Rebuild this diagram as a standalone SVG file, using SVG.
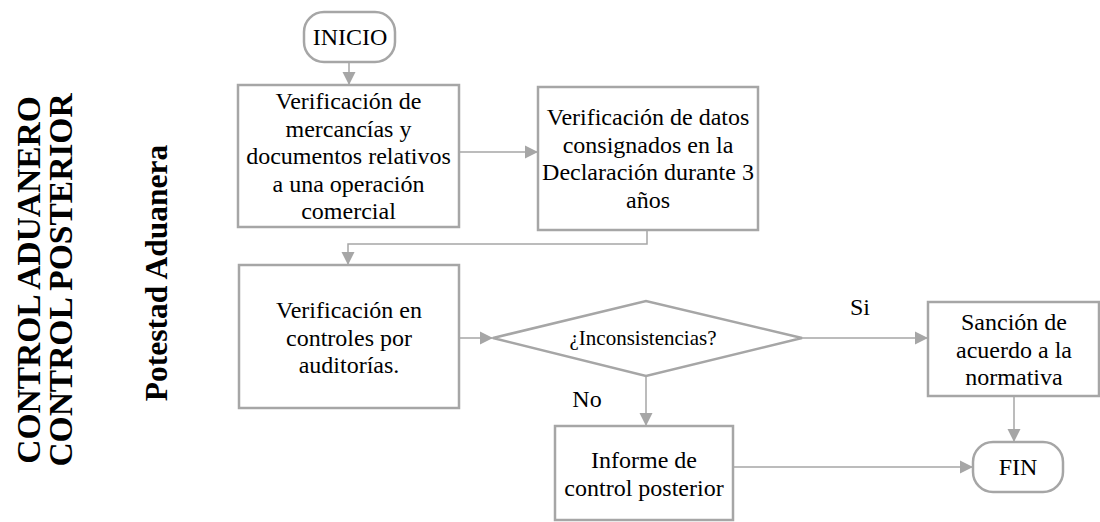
<svg xmlns="http://www.w3.org/2000/svg" width="1100" height="522" viewBox="0 0 1100 522" font-family="Liberation Serif, serif">
<defs>
<style>
.box{fill:#fff;stroke:#a6a6a6;stroke-width:2.5}
.t{font-size:24px;fill:#000;text-anchor:middle}
.d{font-size:21px}
.v{font-weight:bold;fill:#000;text-anchor:middle}
.c{fill:none;stroke:#a6a6a6;stroke-width:1.5}
</style>
<marker id="ah" markerUnits="userSpaceOnUse" markerWidth="14" markerHeight="14" refX="13" refY="7" orient="auto">
<path d="M0,0.5 L13,7 L0,13.5 z" fill="#a6a6a6"/>
</marker>
</defs>
<rect width="1100" height="522" fill="#fff"/>
<g id="labels">
<text class="v" font-size="33.5" transform="translate(40,280) rotate(-90)">CONTROL ADUANERO</text>
<text class="v" font-size="33.5" transform="translate(72,280) rotate(-90)">CONTROL POSTERIOR</text>
<text class="v" font-size="31.5" transform="translate(167,273) rotate(-90)">Potestad Aduanera</text>
</g>
<g id="connectors">
<line class="c" x1="349" y1="62" x2="349" y2="85" marker-end="url(#ah)"/>
<line class="c" x1="459" y1="152" x2="538" y2="152" marker-end="url(#ah)"/>
<polyline class="c" points="647,230 647,244 348,244 348,265" marker-end="url(#ah)"/>
<line class="c" x1="459" y1="338" x2="493" y2="338" marker-end="url(#ah)"/>
<line class="c" x1="802" y1="338" x2="928" y2="338" marker-end="url(#ah)"/>
<line class="c" x1="646" y1="376" x2="646" y2="426" marker-end="url(#ah)"/>
<line class="c" x1="1014" y1="396" x2="1014" y2="442" marker-end="url(#ah)"/>
<line class="c" x1="733" y1="467" x2="973" y2="467" marker-end="url(#ah)"/>
<text class="t" x="860" y="315">Si</text>
<text class="t" x="587" y="407">No</text>
</g>
<g id="inicio">
<rect class="box" x="304" y="12" width="91" height="50" rx="20"/>
<text class="t" x="350" y="45">INICIO</text>
</g>
<g id="verif1">
<rect class="box" x="238" y="85" width="221" height="142"/>
<text class="t" x="348.5" y="109">Verificación de</text>
<text class="t" x="348.5" y="136.5">mercancías y</text>
<text class="t" x="348.5" y="164">documentos relativos</text>
<text class="t" x="348.5" y="191.5">a una operación</text>
<text class="t" x="348.5" y="219">comercial</text>
</g>
<g id="verif2">
<rect class="box" x="538" y="87" width="220" height="143"/>
<text class="t" x="648" y="125">Verificación de datos</text>
<text class="t" x="648" y="152.5">consignados en la</text>
<text class="t" x="648" y="180">Declaración durante 3</text>
<text class="t" x="648" y="207.5">años</text>
</g>
<g id="verif3">
<rect class="box" x="239" y="265" width="220" height="143"/>
<text class="t" x="349" y="318">Verificación en</text>
<text class="t" x="349" y="345.5">controles por</text>
<text class="t" x="349" y="373">auditorías.</text>
</g>
<g id="decision">
<polygon class="box" points="493,338 646,301 802,338 646,376"/>
<text class="t d" x="643" y="345">¿Inconsistencias?</text>
</g>
<g id="sancion">
<rect class="box" x="928" y="302" width="171" height="94"/>
<text class="t" x="1014" y="330">Sanción de</text>
<text class="t" x="1014" y="357.5">acuerdo a la</text>
<text class="t" x="1014" y="385">normativa</text>
</g>
<g id="informe">
<rect class="box" x="555" y="426" width="178" height="94"/>
<text class="t" x="644" y="468">Informe de</text>
<text class="t" x="644" y="495.5">control posterior</text>
</g>
<g id="fin">
<rect class="box" x="973" y="442" width="90" height="50" rx="20"/>
<text class="t" x="1018" y="475">FIN</text>
</g>
</svg>
